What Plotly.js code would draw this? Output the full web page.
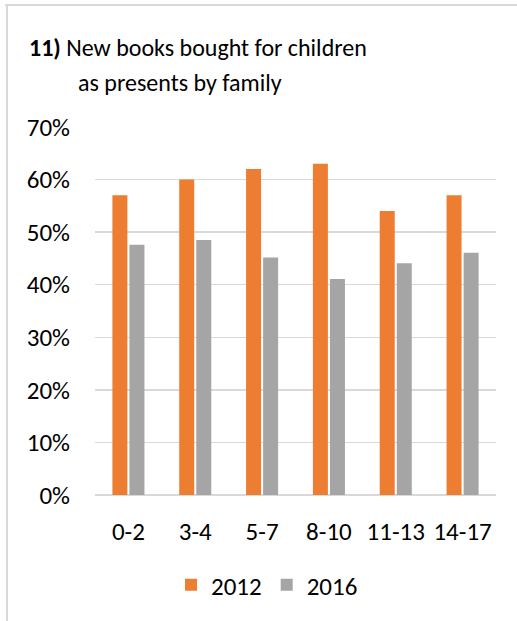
<!DOCTYPE html>
<html>
<head>
<meta charset="utf-8">
<script src="https://cdn.plot.ly/plotly-3.0.1.min.js"></script>
<style>
  html, body { margin: 0; padding: 0; background: #fff; }
  #wrap { position: relative; width: 517px; height: 621px; }
  #chart { position: absolute; left: 0; top: 0; width: 517px; height: 621px; }
  #frameTop { position: absolute; left: 5px; top: 4px; width: 512px; height: 2px; background: #d9d9d9; pointer-events: none; }
  #frameLeft { position: absolute; left: 6px; top: 4px; width: 2px; height: 617px; background: #d9d9d9; pointer-events: none; }
</style>
</head>
<body>
<div id="wrap">
  <div id="chart"></div>
  <div id="frameTop"></div>
  <div id="frameLeft"></div>
</div>
<script>
// ---- data ----
const ageGroups = ["0-2", "3-4", "5-7", "8-10", "11-13", "14-17"];
const values2012 = [57, 60, 62, 63, 54, 57];
const values2016 = [47.6, 48.5, 45.2, 41.1, 44.1, 46.1];
const seriesNames = ["2012", "2016"];
const yTickValues = [0, 10, 20, 30, 40, 50, 60, 70];
const yTickLabels = ["0%", "10%", "20%", "30%", "40%", "50%", "60%", "70%"];
const titleLine1 = "<b>11)</b> New books bought for children";
const titleLine2 = "as presents by family";

// ---- layout ----
const W = 517, H = 621;
const M = { l: 95, r: 21, t: 127, b: 126 };
const plotW = W - M.l - M.r, plotH = H - M.t - M.b;
const px2x = x => (x - M.l) / plotW;
const px2y = y => (H - M.b - y) / plotH;

const FONT = "Carlito, Calibri, Lato, sans-serif";
const TITLE_SIZE = 24;
const TICK_SIZE = 25;

const traces = [
  {
    type: "bar", name: seriesNames[0], x: ageGroups, y: values2012,
    marker: { color: "#ED7D31" }, hoverinfo: "x+y"
  },
  {
    type: "bar", name: seriesNames[1], x: ageGroups, y: values2016,
    marker: { color: "#A5A5A5" }, hoverinfo: "x+y"
  }
];

const layout = {
  width: W, height: H,
  margin: M,
  paper_bgcolor: "#ffffff",
  plot_bgcolor: "#ffffff",
  font: { family: FONT, size: TICK_SIZE, color: "#000000" },
  barmode: "group",
  bargap: 0.49,
  bargroupgap: 0.12,
  title: {
    text: titleLine1,
    xref: "container", yref: "container",
    x: 29 / W, xanchor: "left",
    y: 1 - 48 / H, yanchor: "middle",
    font: { family: FONT, size: TITLE_SIZE, color: "#000000" }
  },
  annotations: [
    {
      text: titleLine2, showarrow: false,
      xref: "paper", yref: "paper",
      x: px2x(76), xanchor: "left",
      y: px2y(82), yanchor: "middle",
      font: { family: FONT, size: TITLE_SIZE, color: "#000000" }
    }
  ],
  xaxis: {
    type: "category",
    showgrid: false,
    showline: false,
    ticks: "",
    ticklabelstandoff: 19,
    tickfont: { family: FONT, size: TICK_SIZE, color: "#000000" },
    fixedrange: true
  },
  yaxis: {
    range: [0, 70],
    tickvals: yTickValues,
    ticktext: yTickLabels,
    showgrid: true,
    gridcolor: "#d9d9d9",
    gridwidth: 1.5,
    zeroline: true,
    zerolinecolor: "#d9d9d9",
    zerolinewidth: 1.5,
    showline: false,
    ticks: "",
    ticklabelstandoff: 24,
    tickfont: { family: FONT, size: TICK_SIZE, color: "#000000" },
    fixedrange: true
  },
  showlegend: true,
  legend: {
    orientation: "h",
    xref: "paper", yref: "paper",
    x: px2x(267), xanchor: "center",
    y: px2y(585), yanchor: "middle",
    font: { family: FONT, size: TICK_SIZE, color: "#000000" },
    itemwidth: 30,
    traceorder: "normal"
  }
};

Plotly.newPlot("chart", traces, layout, { displayModeBar: false, staticPlot: true });
</script>
</body>
</html>
